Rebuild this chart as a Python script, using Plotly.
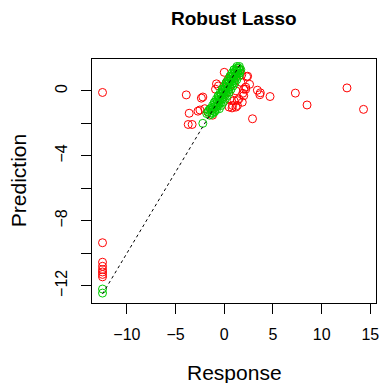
import plotly.graph_objects as go

# ---- data ----
red_x = [-12.5, -12.5, -12.5, -12.5, -12.5, -12.5, -12.5, -12.5,
         -3.9, -3.6, -3.7, -3.3, -2.2, -2.35, -2.5, -2.7, -2.0, -1.7,
         0.0, -0.8, -0.6, 0.3, 1.6, 2.9, 3.4, 3.7, 3.65, 4.7, 7.3, 8.5, 12.6, 14.3,
         2.3, 1.8, 2.0, 2.2, 2.0, 1.85, 1.35, 0.85, 1.2, 1.5, 1.35, 1.2, 0.5, 0.8,
         2.2, 1.7, 2.4, 1.0, 0.6, -1.2, -0.9, 1.9, 2.6]
red_y = [-0.1, -9.35, -10.55, -10.8, -11.0, -11.15, -11.3, -11.45,
         -0.25, -1.38, -2.07, -2.07, -0.38, -0.45, -1.18, -1.25, -1.1, -1.3,
         1.14, 0.43, 0.3, 0.6, 1.3, -1.72, 0.04, -0.12, -0.24, -0.35, -0.14, -0.87, 0.18, -1.14,
         0.87, 1.0, 0.1, 0.1, -0.3, -0.7, -0.9, -0.9, 0.0, -0.5, -0.6, -1.0, -1.0, -1.05,
         0.23, 0.53, 0.9, -0.6, -0.5, -1.5, 0.1, -0.15, 0.4]

green_x = [-1.8, -1.5, -1.2, -1.6, -1.3, -1.0, -1.1, -0.8, -0.5, -0.9, -0.6, -0.3,
           -0.7, -0.4, -0.1, -0.5, -0.2, 0.1, -0.3, 0.0, 0.3, -0.1, 0.2, 0.5,
           0.1, 0.4, 0.7, 0.3, 0.6, 0.9, 0.5, 0.8, 1.1, 0.7, 1.0, 1.3, 0.9, 1.2, 1.5,
           1.1, 1.4, 1.6, 1.3, 1.5, 1.7, -1.4, -1.0, -0.6, -0.2, 0.2, 0.6, 1.0, 1.4,
           -1.65, -1.3, -1.0, -1.45, -1.1, -0.8, -1.2, -0.9, -0.6, -1.0, -0.7, -0.4,
           -0.8, -0.5, -0.2, -0.6, -0.3, 0.0, -0.4, -0.1, 0.2, -0.2, 0.1, 0.4,
           0.0, 0.3, 0.6, 0.2, 0.5, 0.8, 0.4, 0.7, 1.0, 0.6, 0.9, 1.2,
           0.8, 1.1, 1.35, 1.0, 1.25, 1.6, 1.3, 1.55,
           -2.2, -12.5, -12.5]
green_y = [-1.4, -1.5, -1.4, -1.2, -1.2, -1.3, -1.0, -1.0, -1.1, -0.8, -0.8, -0.9,
           -0.6, -0.6, -0.7, -0.4, -0.4, -0.5, -0.2, -0.2, -0.3, 0.0, 0.0, -0.1,
           0.2, 0.2, 0.1, 0.4, 0.4, 0.3, 0.6, 0.6, 0.5, 0.8, 0.8, 0.7, 1.0, 1.0, 0.9,
           1.2, 1.2, 1.1, 1.4, 1.4, 1.3, -1.1, -0.7, -0.3, 0.1, 0.5, 0.9, 1.3, 1.1,
           -1.3, -1.35, -1.25, -1.1, -1.1, -1.15, -0.9, -0.95, -0.9, -0.7, -0.7, -0.75,
           -0.5, -0.55, -0.5, -0.3, -0.3, -0.35, -0.1, -0.1, -0.15, 0.1, 0.1, 0.05,
           0.3, 0.3, 0.25, 0.5, 0.5, 0.45, 0.7, 0.7, 0.65, 0.9, 0.9, 0.85,
           1.1, 1.1, 1.05, 1.3, 1.3, 1.25, 1.5, 1.5,
           -2.0, -12.2, -12.45]

line_x = [-12.5, 1.7]
line_y = [-12.5, 1.7]

x_ticks = [-10, -5, 0, 5, 10, 15]
x_labels = ["\u221210", "\u22125", "0", "5", "10", "15"]
y_ticks = [0, -2, -4, -6, -8, -10, -12]
y_labels = ["0", "", "\u22124", "", "\u22128", "", "\u221212"]

title = "Robust Lasso"
x_title = "Response"
y_title = "Prediction"

FONT = "Liberation Sans, Arial, sans-serif"

fig = go.Figure()
fig.add_trace(go.Scatter(x=red_x, y=red_y, mode="markers",
                         marker=dict(symbol="circle-open", size=8, color="#FF0000",
                                     line=dict(width=1, color="#FF0000")),
                         showlegend=False, hoverinfo="skip"))
fig.add_trace(go.Scatter(x=green_x, y=green_y, mode="markers",
                         marker=dict(symbol="circle-open", size=8, color="#00CD00",
                                     line=dict(width=1, color="#00CD00")),
                         showlegend=False, hoverinfo="skip"))
fig.add_trace(go.Scatter(x=line_x, y=line_y, mode="lines",
                         line=dict(color="black", width=1, dash="3px,3px"),
                         showlegend=False, hoverinfo="skip"))

axis_common = dict(showline=True, linecolor="black", linewidth=1, mirror=True,
                   ticks="outside", ticklen=10, tickcolor="black", tickwidth=1,
                   showgrid=False, zeroline=False,
                   tickfont=dict(family=FONT, size=16, color="black"))

fig.update_layout(
    width=384, height=383,
    margin=dict(l=92, r=5, t=59, b=80),
    paper_bgcolor="white", plot_bgcolor="white",
    xaxis=dict(range=[-13.58, 15.58], tickmode="array", tickvals=x_ticks,
               ticktext=x_labels, ticklabelstandoff=7, **axis_common),
    yaxis=dict(range=[-13.06, 1.96], tickmode="array", tickvals=y_ticks,
               ticktext=y_labels, tickangle=-90, ticklabelstandoff=8, **axis_common),
    annotations=[
        dict(text="<b>" + title + "</b>", xref="paper", yref="paper",
             x=0.5, y=1.164, xanchor="center", yanchor="middle", showarrow=False,
             font=dict(family=FONT, size=19, color="black")),
        dict(text=x_title, xref="paper", yref="paper",
             x=0.5, y=-0.283, xanchor="center", yanchor="middle", showarrow=False,
             font=dict(family=FONT, size=21, color="black")),
        dict(text=y_title, xref="paper", yref="paper", textangle=-90,
             x=-0.26, y=0.5, xanchor="center", yanchor="middle", showarrow=False,
             font=dict(family=FONT, size=21, color="black")),
    ],
)

fig.write_html("out.html")
